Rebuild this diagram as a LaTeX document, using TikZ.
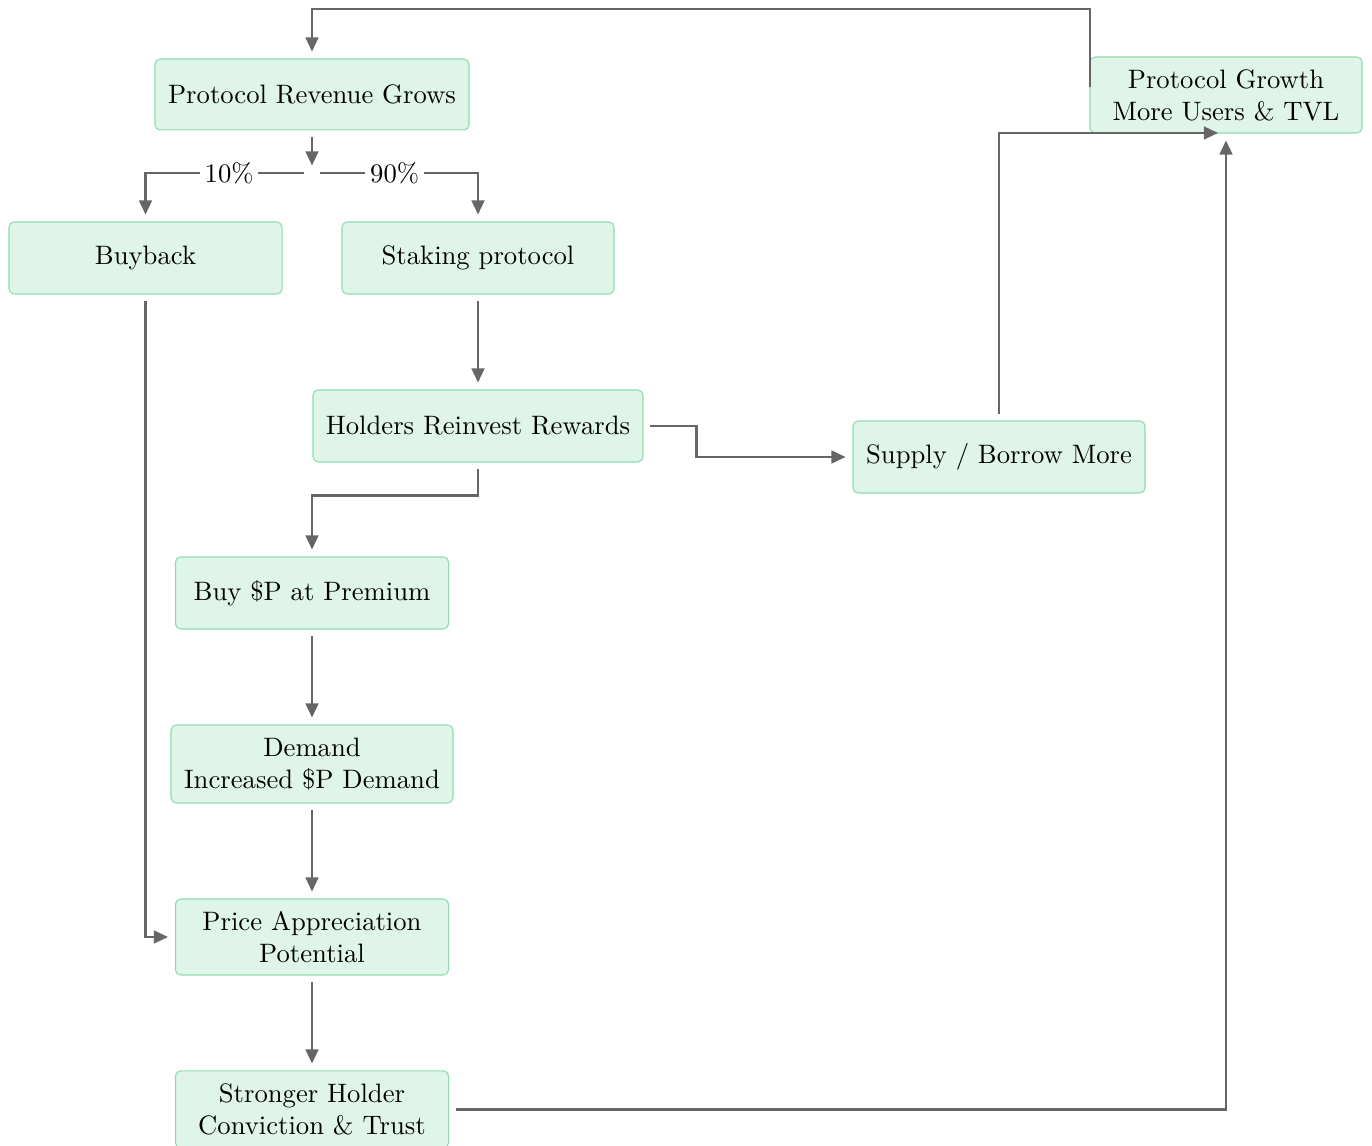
\documentclass[tikz,border=0pt]{standalone}
\usetikzlibrary{arrows.meta}
\definecolor{boxfill}{RGB}{224,245,234}
\definecolor{boxline}{RGB}{142,220,176}
\definecolor{arr}{RGB}{102,102,102}
\begin{document}
\begin{tikzpicture}[x=0.375pt,y=-0.375pt,
 box/.style={draw=boxline, fill=boxfill, rounded corners=1.9pt, line width=0.4pt, align=center, inner sep=0pt, outer sep=2.8pt, text=black},
 flow/.style={draw=arr, line width=0.85pt, -{Triangle[length=5.3pt,width=4.8pt]}},
 pct/.style={fill=white, inner sep=1.8pt, text=black}]
\useasboundingbox (0,0) rectangle (1372,1146);
\node[box, minimum width=117.75pt, minimum height=26.6pt] (prg) at (312,94.5) {Protocol Revenue Grows};
\node[box, minimum width=102.4pt, minimum height=27pt] (buy) at (145.5,258) {Buyback};
\node[box, minimum width=102pt, minimum height=27pt] (stk) at (478,258) {Staking protocol};
\node[box, minimum width=123.75pt, minimum height=27pt] (hld) at (478,426) {Holders Reinvest Rewards};
\node[box, minimum width=109.5pt, minimum height=27pt] (sup) at (999,457) {Supply / Borrow More};
\node[box, minimum width=102.4pt, minimum height=27pt] (bp) at (312,593) {Buy \$P at Premium};
\node[box, minimum width=105.75pt, minimum height=29.25pt] (dem) at (312,764) {Demand\\Increased \$P Demand};
\node[box, minimum width=102.4pt, minimum height=28.5pt] (pap) at (312,937) {Price Appreciation\\Potential};
\node[box, minimum width=102.4pt, minimum height=28.9pt] (shc) at (312,1109.5) {Stronger Holder\\Conviction \& Trust};
\node[box, minimum width=102pt, minimum height=28.5pt] (pg) at (1226,95) {Protocol Growth\\More Users \& TVL};
\node[circle, inner sep=0pt, minimum size=5.25pt] (split) at (312,173) {};
\coordinate (pgin) at (1218,133);
\coordinate (pgout) at (1090,87);
\draw[flow] (prg) -- (split);
\draw[flow] (split.west) -| node[pct,pos=0.237]{10\%} (buy.north);
\draw[flow] (split.east) -| node[pct,pos=0.237]{90\%} (stk.north);
\draw[flow] (stk) -- (hld);
\draw[flow] (hld.south) -- ++(0,26) -| (bp.north);
\draw[flow] (hld.east) -- ++(46,0) |- (sup.west);
\draw[flow] (sup.north) |- (pgin);
\draw[flow] (shc.east) -| (pg.south);
\draw[flow] (pgout) -- ++(0,-78) -| (prg.north);
\draw[flow] (buy.south) |- (pap.west);
\draw[flow] (bp) -- (dem);
\draw[flow] (dem) -- (pap);
\draw[flow] (pap) -- (shc);
\end{tikzpicture}
\end{document}
